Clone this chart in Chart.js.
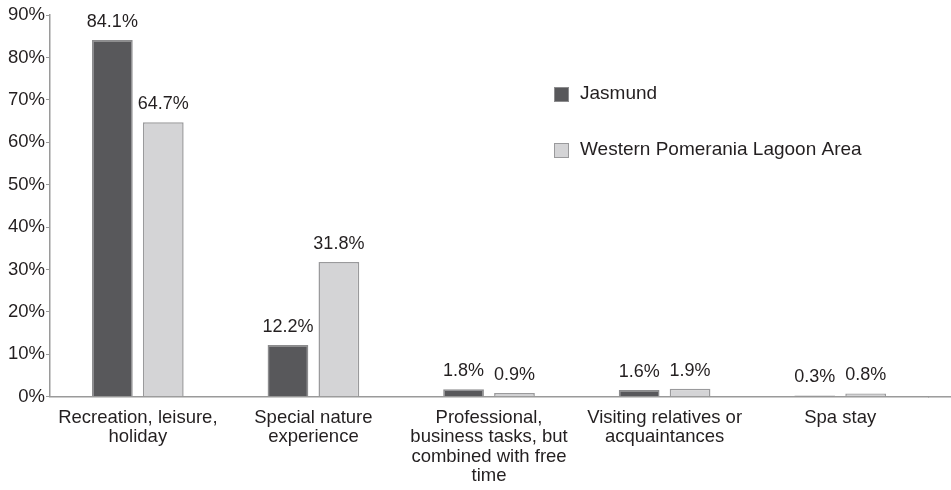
<!DOCTYPE html>
<html>
<head>
<meta charset="utf-8">
<script src="https://cdn.jsdelivr.net/npm/chart.js@4/dist/chart.umd.min.js"></script>
<style>
  html, body { margin: 0; padding: 0; background: #fff; }
  #wrap { width: 951px; height: 490px; position: relative; }
</style>
</head>
<body>
<div id="wrap"><canvas id="myChart"></canvas></div>
<script>
// categories (multi-line labels as in the figure)
const categories = [
    ['Recreation, leisure,', 'holiday'],
    ['Special nature', 'experience'],
    ['Professional,', 'business tasks, but', 'combined with free', 'time'],
    ['Visiting relatives or', 'acquaintances'],
    ['Spa stay']
];

const seriesNames = ['Jasmund', 'Western Pomerania Lagoon Area'];
const jasmund = [84.1, 12.2, 1.8, 1.6, 0.3];
const lagoon = [64.7, 31.8, 0.9, 1.9, 0.8];

const FONT = 'Liberation Sans, Arial, Helvetica, sans-serif';
const TEXT = '#231f20';
const AXIS = '#9a9a9a';

// value labels above each bar
const valueLabels = {
    id: 'valueLabels',
    afterDatasetsDraw(chart) {
        const ctx = chart.ctx;
        ctx.save();
        ctx.font = `18px ${FONT}`;
        ctx.fillStyle = TEXT;
        ctx.textAlign = 'center';
        ctx.textBaseline = 'bottom';
        chart.data.datasets.forEach((ds, i) => {
            const meta = chart.getDatasetMeta(i);
            meta.data.forEach((bar, j) => {
                ctx.fillText(ds.data[j].toFixed(1) + '%', bar.x, bar.y - 9);
            });
        });
        ctx.restore();
    }
};

// legend placed inside the plot, like the original
const sideLegend = {
    id: 'sideLegend',
    afterDraw(chart) {
        const ctx = chart.ctx;
        ctx.save();
        // x axis line runs on to the right edge in the original
        const { right, bottom } = chart.chartArea;
        ctx.strokeStyle = AXIS;
        ctx.lineWidth = 1.5;
        ctx.beginPath();
        ctx.moveTo(right, bottom);
        ctx.lineTo(chart.width, bottom);
        ctx.stroke();

        ctx.font = `19px ${FONT}`;
        ctx.textBaseline = 'middle';
        chart.data.datasets.forEach((ds, i) => {
            const y = 94 + i * 56;
            ctx.fillStyle = ds.backgroundColor;
            ctx.strokeStyle = ds.borderColor;
            ctx.lineWidth = 1;
            ctx.fillRect(554, y - 7, 15, 15);
            ctx.strokeRect(554.5, y - 6.5, 14, 14);
            ctx.fillStyle = TEXT;
            ctx.fillText(ds.label, 580, y);
        });
        ctx.restore();
    }
};

const ctx = document.getElementById('myChart');

new Chart(ctx, {
    type: 'bar',
    data: {
        labels: categories,
        datasets: [
            {
                label: seriesNames[0],
                data: jasmund,
                backgroundColor: '#58585b',
                borderColor: '#8c8c8e',
                borderWidth: 1.5,
                categoryPercentage: 0.58,
                barPercentage: 0.8
            },
            {
                label: seriesNames[1],
                data: lagoon,
                backgroundColor: '#d4d4d6',
                borderColor: '#9a9a9c',
                borderWidth: 1.5,
                categoryPercentage: 0.58,
                barPercentage: 0.8
            }
        ]
    },
    options: {
        responsive: true,
        maintainAspectRatio: false,
        animation: false,
        layout: {
            padding: { top: 15, right: 23, left: 7, bottom: -7 }
        },
        plugins: {
            legend: { display: false },
            tooltip: { enabled: false }
        },
        scales: {
            x: {
                grid: { display: false, drawTicks: false },
                border: { color: AXIS, width: 1.5 },
                ticks: {
                    color: TEXT,
                    font: { family: FONT, size: 18.5, lineHeight: 1.03 },
                    padding: 12,
                    maxRotation: 0,
                    autoSkip: false
                }
            },
            y: {
                min: 0,
                max: 90,
                grid: {
                    drawOnChartArea: false,
                    drawTicks: true,
                    tickLength: 4,
                    color: AXIS
                },
                border: { color: AXIS, width: 1.5 },
                ticks: {
                    stepSize: 10,
                    color: TEXT,
                    font: { family: FONT, size: 18.5 },
                    padding: 1,
                    callback: (v) => v + '%'
                }
            }
        }
    },
    plugins: [valueLabels, sideLegend]
});
</script>
</body>
</html>
